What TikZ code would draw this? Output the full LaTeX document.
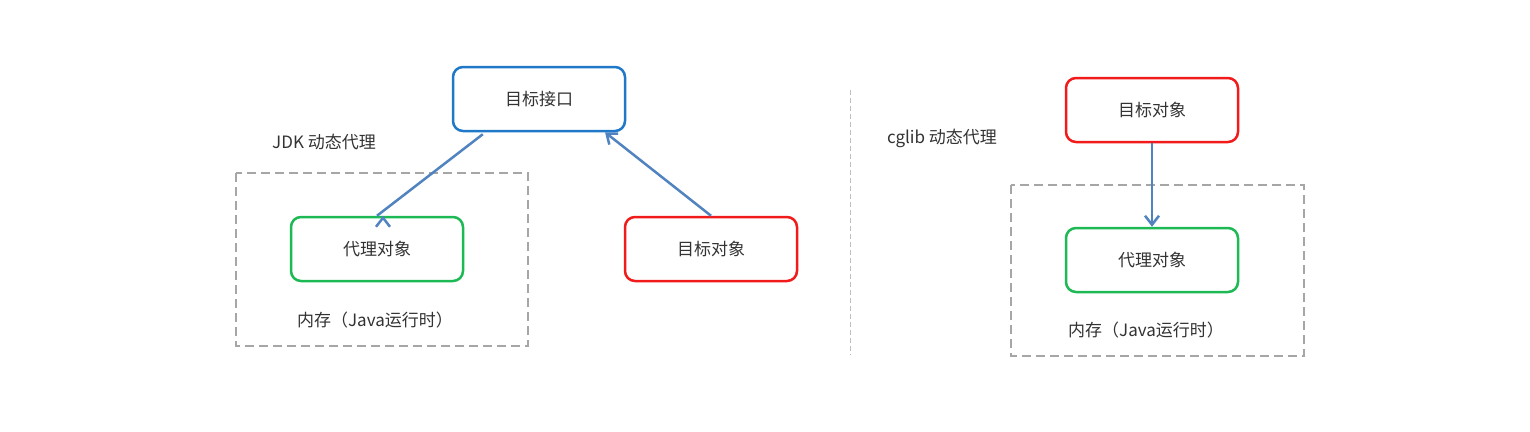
\documentclass[tikz,border=0pt]{standalone}
\usepackage{fontspec}
\setmainfont{Noto Sans CJK SC}
\usetikzlibrary{arrows.meta}
\definecolor{bl}{HTML}{1F78C8}
\definecolor{rd}{HTML}{F21B1B}
\definecolor{gr}{HTML}{1DB954}
\definecolor{ar}{HTML}{5083C0}
\definecolor{tx}{HTML}{333333}
\begin{document}
\begin{tikzpicture}[x=1pt,y=-1pt,
  box/.style={draw,line width=2.5pt,rounded corners=10pt,minimum width=172pt,minimum height=64pt,text=tx,font=\fontsize{17}{20}\selectfont},
  lbl/.style={text=tx,font=\fontsize{17}{20}\selectfont},
  conn/.style={draw=ar,line width=2.5pt,-{Straight Barb[length=9pt,width=14pt]}},
  mem/.style={draw=gray!70,dashed,dash pattern=on 9pt off 5pt,line width=2pt}]
\useasboundingbox[fill=white] (0,0) rectangle (1530,431);
\draw[mem] (236,173) rectangle (528,346);
\draw[mem] (1011,185) rectangle (1304,356);
\draw[draw=gray!50,dash pattern=on 5pt off 3pt,line width=1pt] (850,90) -- (850,355);
\node[box,draw=bl] (iface) at (539,99) {目标接口};
\node[box,draw=gr] (proxyL) at (377,249) {代理对象};
\node[box,draw=rd] (targetL) at (711,249) {目标对象};
\node[box,draw=rd] (targetR) at (1152,110) {目标对象};
\node[box,draw=gr] (proxyR) at (1152,260) {代理对象};
\node[lbl] (jdk) at (324,142) {JDK 动态代理};
\node[lbl] (memL) at (375,320) {内存（Java运行时）};
\node[lbl] (cglib) at (942,138) {cglib 动态代理};
\node[lbl] (memR) at (1146,330) {内存（Java运行时）};
\draw[conn] (iface.south west) ++(31,2) -- (proxyL.north) ++(6,0);
\draw[conn] (targetL.north) -- ([xshift=66pt]iface.south);
\draw[conn] (targetR) -- (proxyR);
\end{tikzpicture}
\end{document}
